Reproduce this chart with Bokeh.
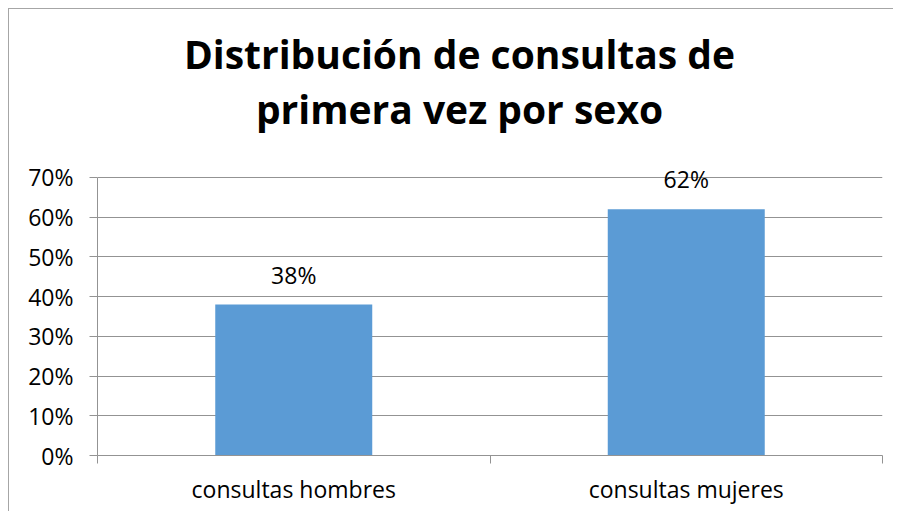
from bokeh.plotting import figure
from bokeh.models import Range1d, FixedTicker, NumeralTickFormatter, Div
from bokeh.layouts import column
from bokeh.core.properties import value
from bokeh.embed import file_html
from bokeh.resources import INLINE

categories = ["consultas hombres", "consultas mujeres"]
shares = [0.38, 0.62]
share_labels = ["38%", "62%"]
y_ticks = [0, 0.1, 0.2, 0.3, 0.4, 0.5, 0.6, 0.7]
title_lines = ["Distribución de consultas de", "primera vez por sexo"]

FONT = "Open Sans"
GRAY = "#939393"
W = 884

title = Div(
    text="<div style=\"width:%dpx;box-sizing:border-box;padding-left:17px;padding-top:17px;"
         "text-align:center;font-family:'Open Sans';font-weight:bold;font-size:39px;"
         "line-height:55px;color:black;\">%s</div>" % (W, "<br>".join(title_lines)),
    width=W, height=138, margin=0)

p = figure(width=W, height=364, x_range=Range1d(0, len(categories)), y_range=Range1d(0, 0.75),
           output_backend="svg", toolbar_location=None, margin=0,
           min_border_left=88, min_border_right=11, min_border_bottom=56, min_border_top=10)
p.outline_line_color = None
p.background_fill_color = "white"
p.border_fill_color = "white"

xs = [i + 0.5 for i in range(len(categories))]
p.vbar(x=xs, top=shares, width=0.4, color="#5B9BD5", line_color=None)
p.text(x=xs, y=shares, text=share_labels, text_align="center", text_baseline="alphabetic",
       y_offset=-30, text_font=value(FONT), text_font_size="23px", text_color="black")

# x axis
p.xaxis.ticker = FixedTicker(ticks=xs, minor_ticks=list(range(len(categories) + 1)))
p.xaxis.major_label_overrides = {x: c for x, c in zip(xs, categories)}
p.xaxis.major_tick_out = 0
p.xaxis.major_tick_in = 0
p.xaxis.minor_tick_out = 8
p.xaxis.minor_tick_in = 0
p.xaxis.minor_tick_line_color = GRAY
p.xaxis.axis_line_color = GRAY
p.xaxis.major_label_text_font = FONT
p.xaxis.major_label_text_font_size = "23px"
p.xaxis.major_label_text_color = "black"
p.xaxis.major_label_standoff = 9

# y axis
p.yaxis.ticker = FixedTicker(ticks=y_ticks)
p.yaxis.bounds = (0, 0.7)
p.yaxis.formatter = NumeralTickFormatter(format="0%")
p.yaxis.major_tick_out = 8
p.yaxis.major_tick_in = 0
p.yaxis.minor_tick_line_color = None
p.yaxis.major_tick_line_color = GRAY
p.yaxis.axis_line_color = GRAY
p.yaxis.major_label_text_font = FONT
p.yaxis.major_label_text_font_size = "23px"
p.yaxis.major_label_text_color = "black"
p.yaxis.major_label_standoff = 16

p.xgrid.grid_line_color = None
p.ygrid.grid_line_color = GRAY
p.ygrid.ticker = FixedTicker(ticks=y_ticks)

layout = column(title, p, spacing=0, margin=0)
layout.styles = {"border-left": "1px solid #A6A6A6", "border-top": "1px solid #A6A6A6",
                 "margin-left": "8px", "margin-top": "8px", "background-color": "white"}

open("out.html", "w").write(file_html(layout, INLINE))
